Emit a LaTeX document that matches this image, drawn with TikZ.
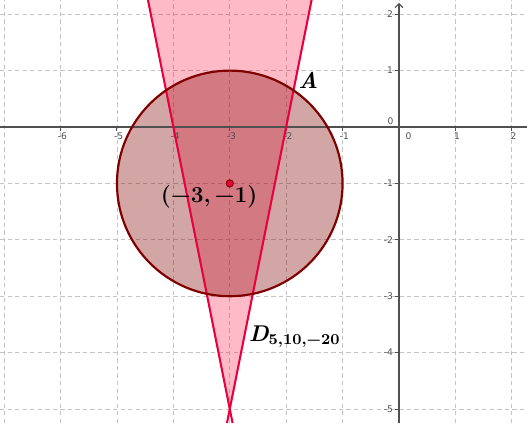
\documentclass[tikz,border=0pt]{standalone}
\usepackage{fontspec}
\newfontfamily\ticksf{DejaVu Sans}
\usetikzlibrary{arrows.meta}
\definecolor{gridc}{HTML}{C4C4C4}
\definecolor{axisc}{HTML}{505050}
\definecolor{circc}{HTML}{800000}
\definecolor{conec}{HTML}{FF0033}
\definecolor{conel}{HTML}{E8003D}
\begin{document}
\begin{tikzpicture}[x=1cm,y=1cm,
  gridline/.style={gridc, dash pattern=on 2.2pt off 1.6pt, line width=0.45pt},
  axisline/.style={axisc, line width=0.55pt},
  tickline/.style={axisc, line width=0.5pt},
  ticklab/.style={font=\ticksf\fontsize{4.6}{5}\selectfont, text=axisc, inner sep=0.6pt},
  conefillst/.style={fill=conec, fill opacity=0.27},
  circfillst/.style={fill=circc, fill opacity=0.35},
  coneline/.style={conel, line width=1.05pt},
  circline/.style={circc, line width=1.1pt},
  biglab/.style={font=\fontsize{11.5}{13}\selectfont\bfseries, inner sep=0pt},
  dotst/.style={circle, fill=conel, draw=circc, line width=0.45pt, minimum size=0.13cm, inner sep=0pt}
]
\useasboundingbox (-7.074,-5.248) rectangle (2.27,2.252);
% grid
\foreach \x in {-7,...,2} \draw[gridline] (\x,-5.248) -- (\x,2.252);
\foreach \y in {-5,...,2} \draw[gridline] (-7.074,\y) -- (2.27,\y);
% cone geometry
\coordinate (V) at (-3,-5);
\coordinate (TL) at (-4.4504,2.252);
\coordinate (TR) at (-1.5496,2.252);
\coordinate (BL) at (-2.9504,-5.248);
\coordinate (BR) at (-3.0496,-5.248);
\coordinate (C) at (-3,-1);
% fills
\fill[conefillst] (V) -- (TL) -- (TR) -- cycle;
\fill[circfillst] (C) circle (2);
% axes
\coordinate (xl) at (-7.074,0);
\coordinate (xr) at (2.27,0);
\coordinate (yb) at (0,-5.248);
\coordinate (yt) at (0,2.2);
\draw[axisline] (xl) -- (xr);
\draw[axisline, -{Straight Barb[length=2pt,width=4pt]}] (yb) -- (yt);
\foreach \x in {-6,...,-1,1,2} {
  \draw[tickline] (\x,0.02) -- (\x,-0.07);
  \node[ticklab, anchor=north] at (\x+0.03,-0.08) {\x};
}
\foreach \y in {-5,...,-1,1,2} {
  \draw[tickline] (0.02,\y) -- (-0.07,\y);
  \node[ticklab, anchor=east] at (-0.08,\y) {\y};
}
\node[ticklab, anchor=south east] (y0) at (-0.07,0.02) {0};
\node[ticklab, anchor=north west] (x0) at (0.09,-0.08) {0};
% lines
\draw[coneline] (TL) -- (V) -- (BL);
\draw[coneline] (TR) -- (V) -- (BR);
\draw[circline] (C) circle (2);
% labels
\node[dotst] (cdot) at (C) {};
\node[biglab] (clab) at (-3.365,-1.236) {(−3,\,−1)};
\node[biglab, anchor=base west] (dlab) at (-2.67,-3.80) {\itshape D\upshape\raisebox{-1.7pt}{\fontsize{7.6}{9}\selectfont 5,10,−20}};
\node[biglab] (alab) at (-1.61,0.833) {\itshape A};
\end{tikzpicture}
\end{document}
